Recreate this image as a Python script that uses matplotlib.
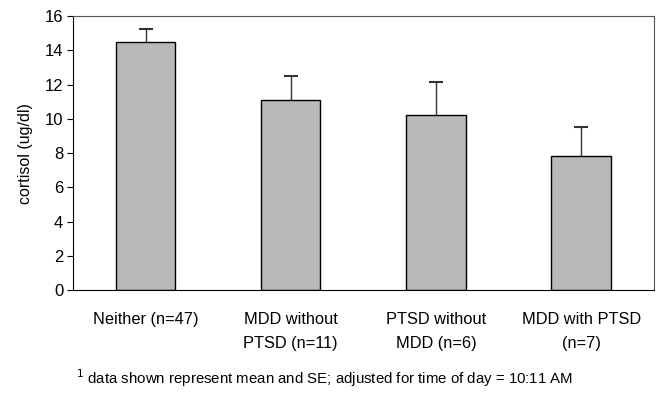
import matplotlib.pyplot as plt
import numpy as np

plt.rcParams['font.family'] = ['Liberation Sans', 'DejaVu Sans']

# Group labels and cortisol values (mean, upper SE)
groups = ["Neither (n=47)", "MDD without\nPTSD (n=11)", "PTSD without\nMDD (n=6)", "MDD with PTSD\n(n=7)"]
means = [14.5, 11.1, 10.2, 7.85]
se = [0.75, 1.4, 1.95, 1.7]
yticks = [0, 2, 4, 6, 8, 10, 12, 14, 16]

fig = plt.figure(figsize=(6.57, 3.94), dpi=100)
ax = fig.add_axes([0.111, 0.264, 0.884, 0.695])

x = np.arange(len(groups))
ax.bar(x, means, width=0.41, color='#b9b9b9', edgecolor='black', linewidth=1.0, zorder=2)
_, caps, _ = ax.errorbar(x, means, yerr=[np.zeros(len(se)), se], fmt='none', ecolor='#333333',
                         elinewidth=1.0, capsize=5, capthick=1.5, zorder=1)
# only the upper cap is shown
caps[0].set_visible(False)

ax.set_xlim(-0.5, 3.5)
ax.set_ylim(0, 16)
ax.set_yticks(yticks)
ax.set_yticklabels([str(t) for t in yticks], fontsize=12)
ax.set_xticks(x)
ax.set_xticklabels(groups, fontsize=11.8, linespacing=1.75)
ax.tick_params(axis='x', length=0, pad=16)
ax.tick_params(axis='y', length=4, width=0.8, pad=3)
ax.set_ylabel("cortisol (ug/dl)", fontsize=11.5, labelpad=8)

for side in ['top', 'right']:
    ax.spines[side].set_color('#555555')
    ax.spines[side].set_linewidth(0.8)
for side in ['left', 'bottom']:
    ax.spines[side].set_linewidth(0.8)

fig.text(0.116, 0.025, r"$^{1}$ data shown represent mean and SE; adjusted for time of day = 10:11 AM",
         fontsize=10.8)

fig.savefig("out.png", dpi=100)
